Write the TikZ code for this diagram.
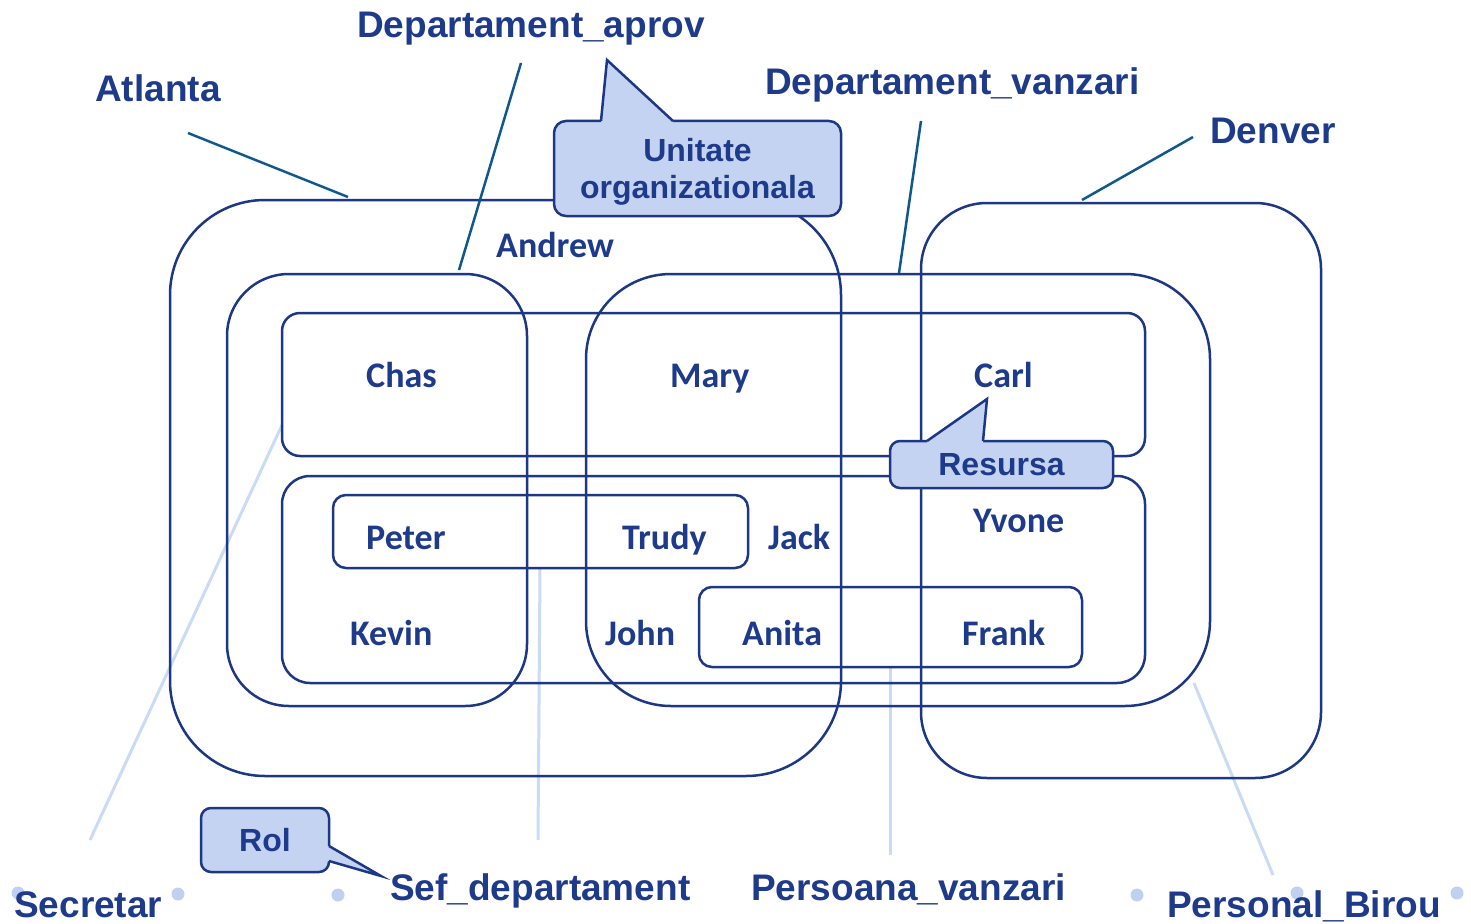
\documentclass[tikz,border=0pt]{standalone}
\usepackage{fontspec}
\setmainfont{Liberation Sans}
\newfontfamily\calib{Carlito}
\definecolor{dk}{RGB}{30,58,138}
\definecolor{lnc}{RGB}{28,56,132}
\definecolor{teal}{RGB}{15,88,140}
\definecolor{pale}{RGB}{202,219,245}
\definecolor{cfill}{RGB}{197,211,242}
\definecolor{dotc}{RGB}{192,208,240}
\begin{document}
\begin{tikzpicture}[x=1pt,y=-1pt,
  lab/.style={anchor=base west, inner sep=0pt, text=dk, font=\fontsize{37}{37}\selectfont\bfseries},
  nm/.style={anchor=base west, inner sep=0pt, text=dk, font=\calib\fontsize{36}{36}\selectfont\bfseries},
  region/.style={draw=lnc, line width=2.5pt, inner sep=0pt},
  callbox/.style={draw=lnc, fill=cfill, line width=2.5pt, rounded corners=12pt, inner sep=0pt, text=dk, align=center, font=\fontsize{32}{37}\selectfont\bfseries},
  calltext/.style={inner sep=0pt, text=dk, align=center, font=\fontsize{32}{37}\selectfont\bfseries},
  lead/.style={draw=teal, line width=2.5pt},
  palelead/.style={draw=pale, line width=3pt},
  dotst/.style={fill=dotc}]
\useasboundingbox (0,0) rectangle (1471,923);

% pale leader lines
\coordinate (secA) at (282,425); \coordinate (secB) at (90,840);
\coordinate (sefA) at (540,568); \coordinate (sefB) at (538,840);
\coordinate (pvA) at (890,667); \coordinate (pvB) at (890,855);
\coordinate (pbA) at (1194,683); \coordinate (pbB) at (1273,875);
\draw[palelead] (secA) -- (secB);
\draw[palelead] (sefA) -- (sefB);
\draw[palelead] (pvA) -- (pvB);
\draw[palelead] (pbA) -- (pbB);

% regions
\node[region, rounded corners=95pt, minimum width=671pt, minimum height=576pt] (atlanta) at (505.5,488) {};
\node[region, rounded corners=66pt, minimum width=400pt, minimum height=575pt] (denver) at (1121,490.5) {};
\node[region, rounded corners=62pt, minimum width=300pt, minimum height=432pt] (aprov) at (377,490) {};
\node[region, rounded corners=85pt, minimum width=624pt, minimum height=432pt] (vanzari) at (898,490) {};
\node[region, rounded corners=18pt, minimum width=863pt, minimum height=143pt] (rtop) at (713.5,384.5) {};
\node[region, rounded corners=28pt, minimum width=863pt, minimum height=207pt] (rbot) at (713.5,579.5) {};
\node[region, rounded corners=13pt, minimum width=415pt, minimum height=73pt] (ptbox) at (540.5,531.5) {};
\node[region, rounded corners=13pt, minimum width=383pt, minimum height=80pt] (afbox) at (890.5,627) {};

% top leader lines
\coordinate (atlL) at (188,133); \coordinate (atlR) at (348,197);
\coordinate (apA) at (521,63); \coordinate (apB) at (459,270);
\coordinate (dvA) at (921,121); \coordinate (dvB) at (899,273);
\coordinate (denA) at (1193,137); \coordinate (denB) at (1082,200);
\draw[lead] (atlL) -- (atlR);
\draw[lead] (apA) -- (apB);
\draw[lead] (dvA) -- (dvB);
\draw[lead] (denA) -- (denB);

% callouts
\node[callbox, minimum width=287pt, minimum height=95pt] (uo) at (697.5,168.5) {};
\fill[cfill] (601,125) -- (601,121) -- (607,60) -- (673,121) -- (673,125) -- cycle;
\draw[lnc, line width=2.5pt] (601,121) -- (607,60) -- (673,121);
\node[calltext] (uotext) at (697.5,172) {Unitate\\organizationala};

\node[callbox, rounded corners=10pt, minimum width=223pt, minimum height=47pt] (res) at (1001.5,464.5) {Resursa};
\fill[cfill] (927,445) -- (927,441) -- (987,399) -- (983,441) -- (983,445) -- cycle;
\draw[lnc, line width=2.5pt] (927,441) -- (987,399) -- (983,441);

\node[callbox, rounded corners=10pt, minimum width=128pt, minimum height=64pt] (rol) at (265,840) {Rol};
\fill[cfill] (325,846) -- (329,846) -- (381,876) -- (329,861) -- (325,861) -- cycle;
\draw[lnc, line width=2.5pt] (329,846) -- (381,876) -- (329,861);

% dots
\fill[dotst] (18,893) circle (6.5pt);
\fill[dotst] (178,894) circle (6.5pt);
\fill[dotst] (338,895) circle (6.5pt);
\fill[dotst] (1137,895) circle (6.5pt);
\fill[dotst] (1297,893) circle (6.5pt);
\fill[dotst] (1457,893) circle (6.5pt);

% labels
\node[lab] (tAtl) at (95,102) {Atlanta};
\node[lab] (tApr) at (357,38) {Departament\_aprov};
\node[lab] (tVz) at (765,95) {Departament\_vanzari};
\node[lab] (tDen) at (1210,143) {Denver};
\node[lab] (tSec) at (14,917) {Secretar};
\node[lab] (tSef) at (390,900) {Sef\_departament};
\node[lab] (tPv) at (751,900) {Persoana\_vanzari};
\node[lab] (tPb) at (1167,917) {Personal\_Birou};

% names
\node[nm] (andrew) at (496,257) {Andrew};
\node[nm] (chas) at (366,387) {Chas};
\node[nm] (mary) at (670,387) {Mary};
\node[nm] (carl) at (974,387) {Carl};
\node[nm] (yvone) at (973,532) {Yvone};
\node[nm] (peter) at (366,549) {Peter};
\node[nm] (trudy) at (622,549) {Trudy};
\node[nm] (jack) at (768,549) {Jack};
\node[nm] (kevin) at (350,645) {Kevin};
\node[nm] (john) at (605,645) {John};
\node[nm] (anita) at (742,645) {Anita};
\node[nm] (frank) at (962,645) {Frank};
\end{tikzpicture}
\end{document}
